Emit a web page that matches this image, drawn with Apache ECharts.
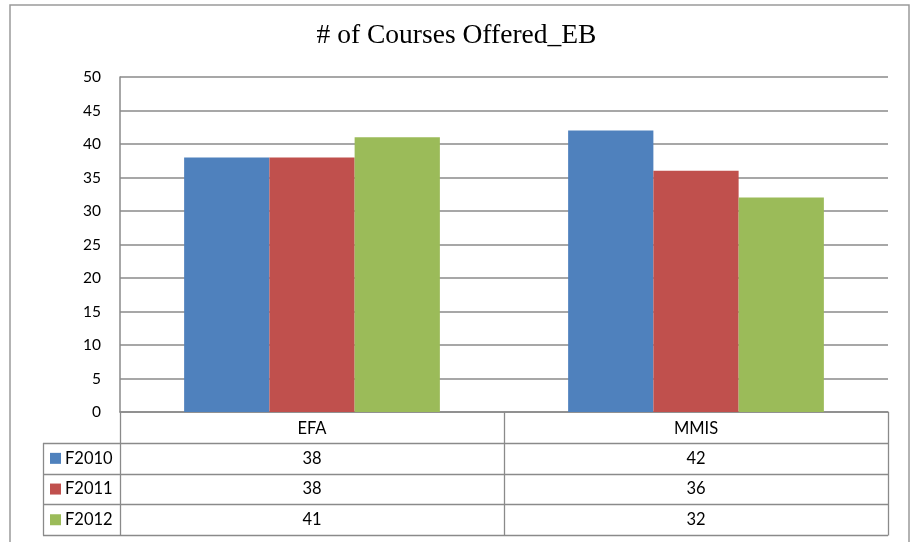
<!DOCTYPE html>
<html>
<head>
<meta charset="utf-8">
<script src="https://cdn.jsdelivr.net/npm/echarts@6/dist/echarts.min.js"></script>
<style>
  html, body { margin: 0; padding: 0; background: #fff; }
  #chart { width: 913px; height: 542px; }
</style>
</head>
<body>
<div id="chart"></div>
<script>
// data
const categories = ['EFA', 'MMIS']
const seriesNames = ['F2010', 'F2011', 'F2012']
const f2010 = [38, 42]
const f2011 = [38, 36]
const f2012 = [41, 32]
const yTicks = [0, 5, 10, 15, 20, 25, 30, 35, 40, 45, 50]

const colors = ['#4F81BD', '#C0504D', '#9BBB59']
const lineGray = '#8a8a8a'
const font = 'Lato, "Liberation Sans", sans-serif'

const chart = echarts.init(document.getElementById('chart'))

const seriesData = [f2010, f2011, f2012]

chart.setOption({
  animation: false,
  color: colors,
  title: {
    text: '# of Courses Offered_EB',
    left: 'center',
    top: 17,
    textStyle: {
      fontFamily: '"Liberation Serif", "Times New Roman", serif',
      fontSize: 27.5,
      fontWeight: 'normal',
      color: '#000'
    }
  },
  grid: { left: 120, right: 25, top: 77, bottom: 130 },
  xAxis: {
    type: 'category',
    data: categories,
    axisTick: { show: false },
    axisLine: { lineStyle: { color: lineGray, width: 1.5 } },
    axisLabel: { margin: 8, fontFamily: font, fontSize: 16.5, color: '#000' }
  },
  yAxis: {
    type: 'value',
    min: yTicks[0],
    max: yTicks[yTicks.length - 1],
    interval: yTicks[1] - yTicks[0],
    axisLine: { show: true, lineStyle: { color: lineGray, width: 1.5 } },
    axisTick: { show: false },
    axisLabel: { margin: 19, fontFamily: font, fontSize: 15.5, color: '#000' },
    splitLine: { lineStyle: { color: lineGray, width: 1.5 } }
  },
  series: seriesNames.map((name, i) => ({
    name: name,
    type: 'bar',
    data: seriesData[i],
    barGap: '0%',
    barCategoryGap: '33.4%',
    itemStyle: { color: colors[i] }
  }))
})

// data table below the axis, positioned through the axis scale
const centers = categories.map(cat => chart.convertToPixel({ xAxisIndex: 0 }, cat))
const band = centers.length > 1 ? centers[1] - centers[0] : 768
const colEdges = [centers[0] - band / 2].concat(centers.map(c => c + band / 2))
const yAxisPx = chart.convertToPixel({ yAxisIndex: 0 }, 0)
const headH = 31
const rowH = 30.7
const keyColLeft = 43
const rowTop = yAxisPx + headH
const xRight = colEdges[colEdges.length - 1]

const graphics = []
const lineStyle = { stroke: lineGray, lineWidth: 1.3 }

// outer frame
graphics.push({
  type: 'rect',
  shape: { x: 10, y: 5, width: 899, height: 560 },
  style: { fill: null, stroke: '#9a9a9a', lineWidth: 1.5 },
  silent: true
})

// horizontal lines
for (let r = 0; r <= seriesNames.length; r++) {
  const y = Math.round(rowTop + r * rowH) + 0.5
  graphics.push({ type: 'line', shape: { x1: keyColLeft, y1: y, x2: xRight, y2: y }, style: lineStyle })
}
// vertical lines
const tableBottom = Math.round(rowTop + seriesNames.length * rowH) + 0.5
graphics.push({ type: 'line', shape: { x1: keyColLeft + 0.5, y1: rowTop, x2: keyColLeft + 0.5, y2: tableBottom }, style: lineStyle })
colEdges.forEach(edge => {
  const x = Math.round(edge) + 0.5
  graphics.push({ type: 'line', shape: { x1: x, y1: yAxisPx, x2: x, y2: tableBottom }, style: lineStyle })
})

// rows: legend key + values
seriesNames.forEach((name, r) => {
  const cy = rowTop + r * rowH + rowH / 2
  graphics.push({
    type: 'rect',
    shape: { x: 50, y: cy - 5.5, width: 11, height: 11 },
    style: { fill: colors[r] }
  })
  graphics.push({
    type: 'text',
    x: 65, y: cy,
    style: { text: name, font: '16.5px ' + font, fill: '#000', verticalAlign: 'middle' }
  })
  categories.forEach((cat, c) => {
    graphics.push({
      type: 'text',
      x: centers[c], y: cy,
      style: { text: String(seriesData[r][c]), font: '16.5px ' + font, fill: '#000', align: 'center', verticalAlign: 'middle' }
    })
  })
})

chart.setOption({ graphic: graphics })
</script>
</body>
</html>
